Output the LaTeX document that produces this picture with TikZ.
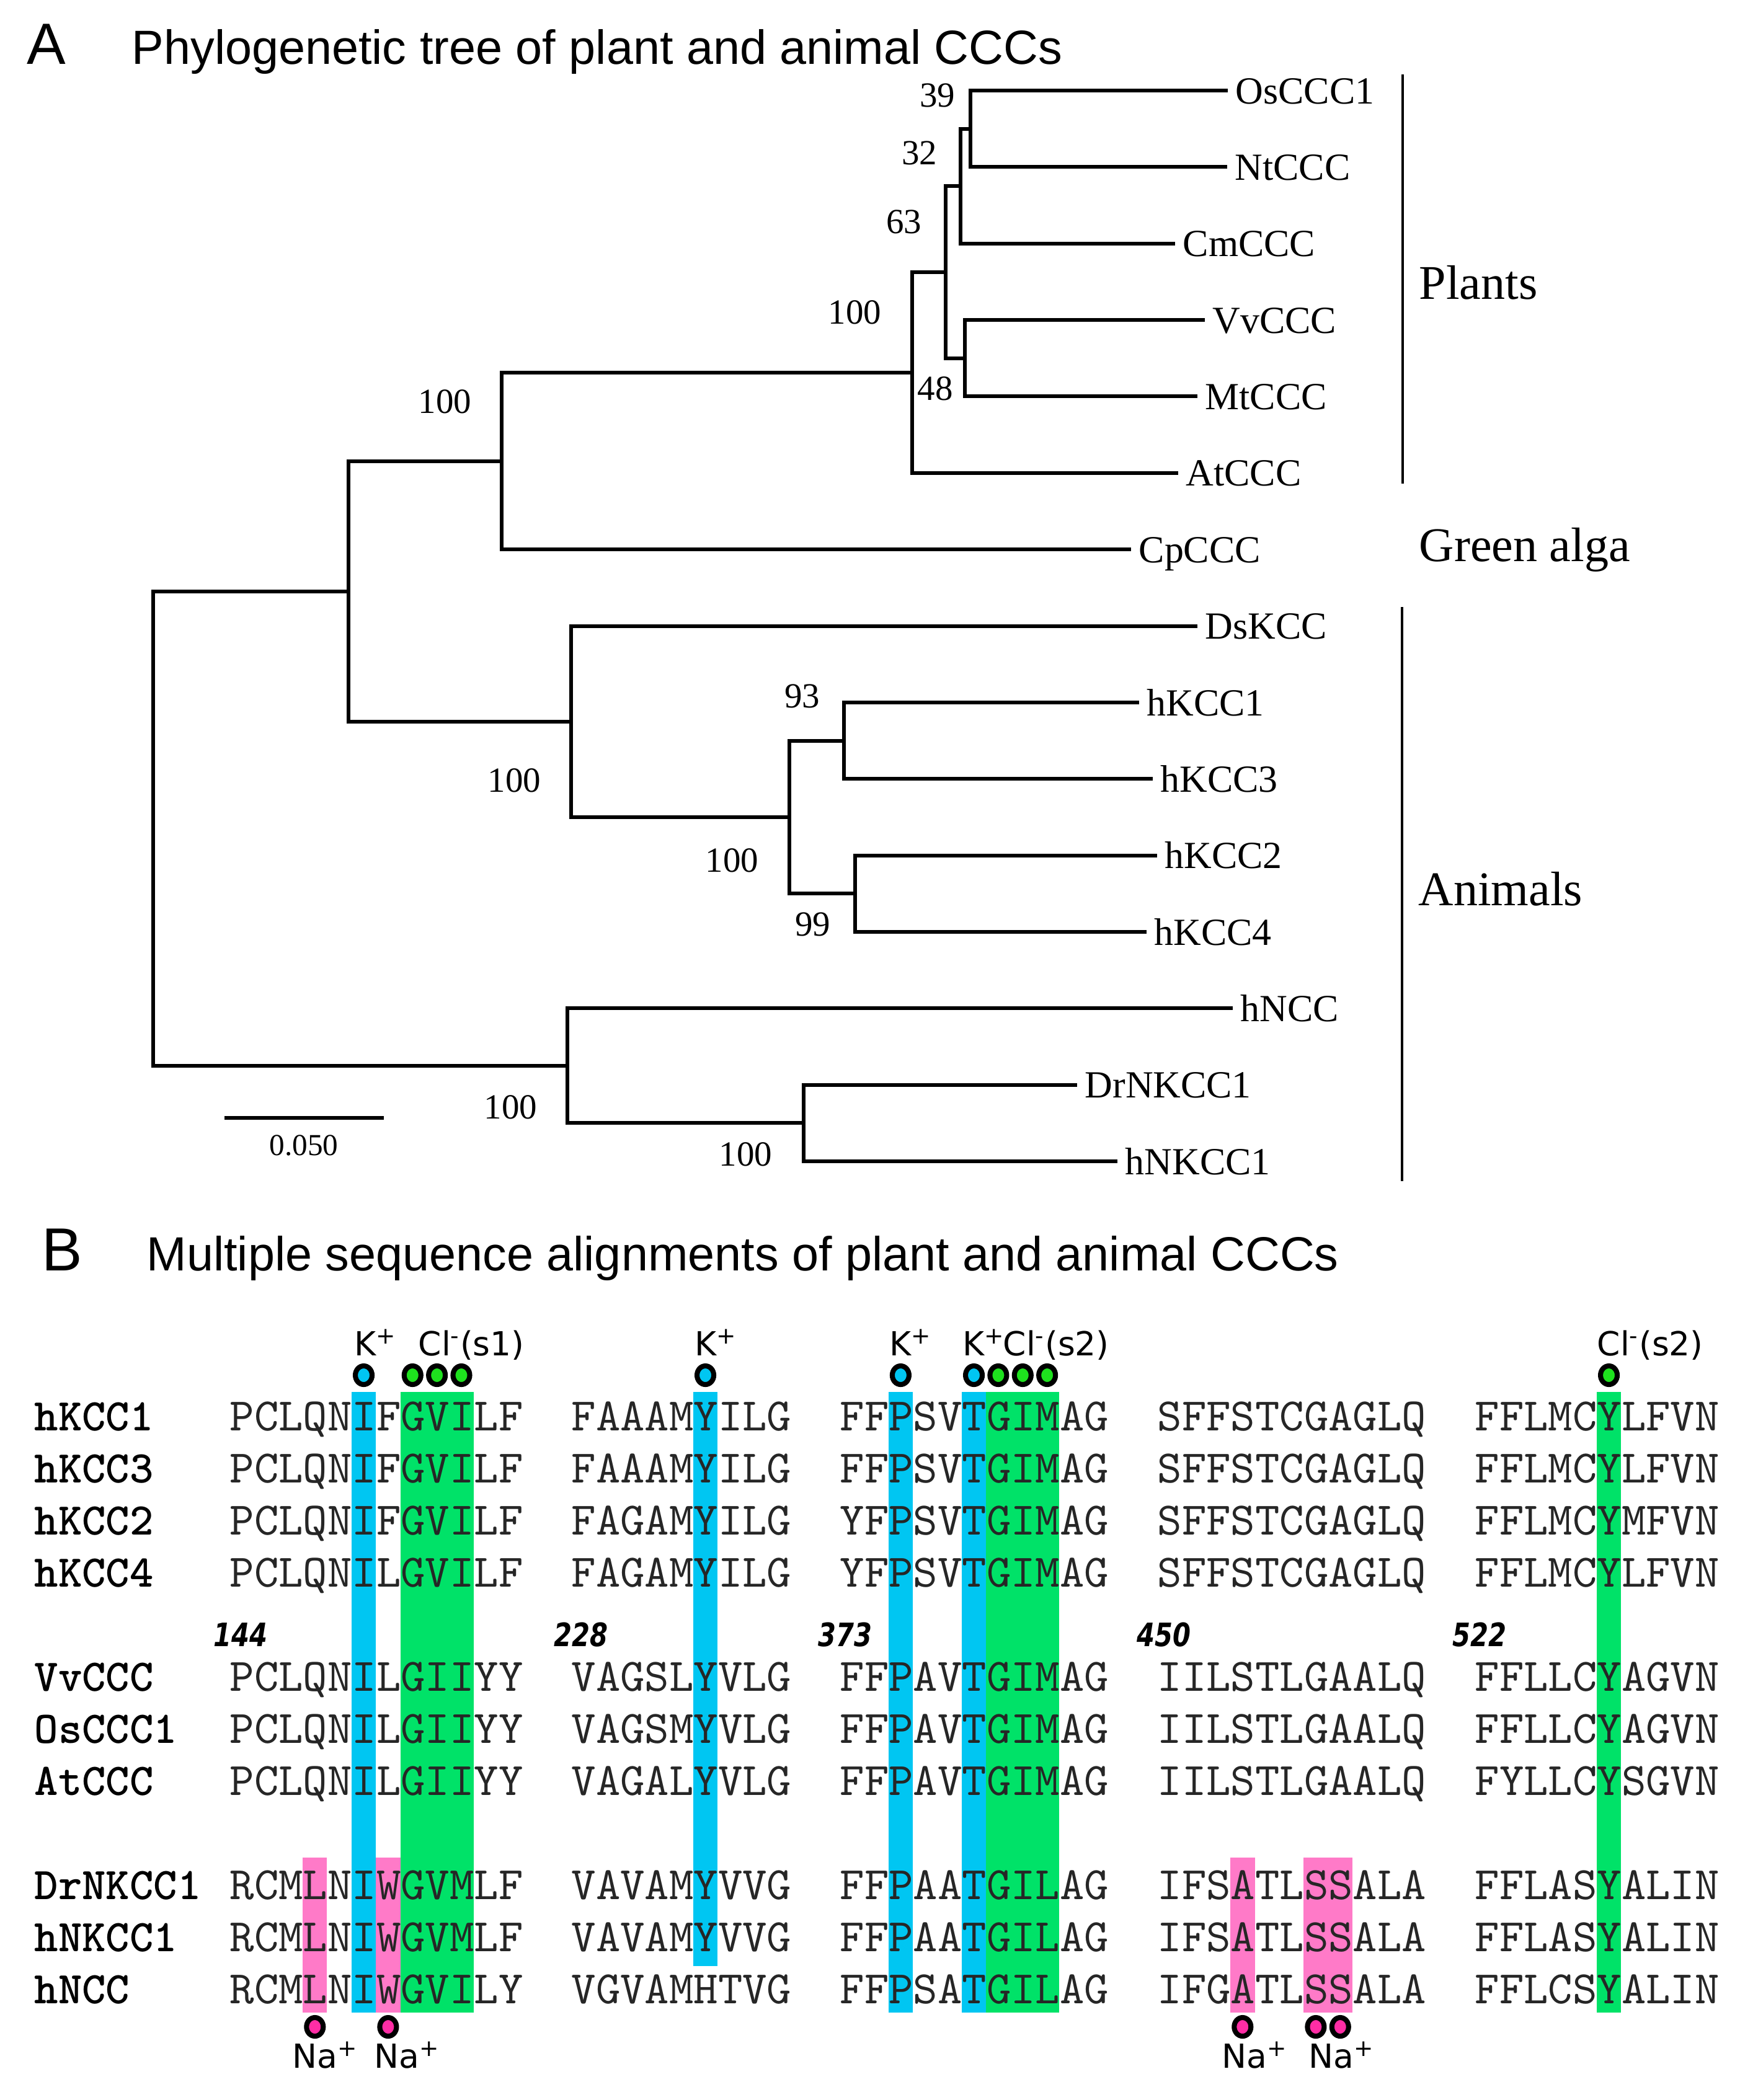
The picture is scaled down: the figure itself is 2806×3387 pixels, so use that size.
\documentclass[tikz,border=0pt]{standalone}
\usepackage{fontspec}
\usetikzlibrary{shapes.geometric}
\newfontfamily\arialf{Liberation Sans}
\newfontfamily\timesf{Liberation Serif}
\newfontfamily\ionf{DejaVu Sans}
\newfontfamily\numf[FakeStretch=0.8]{DejaVu Sans}
\newfontface\monor{lmmono10-regular.otf}
\newfontface\monob{lmmonolt10-bold.otf}
\newcommand\myfs[1]{\fontsize{#1pt}{#1pt}\selectfont}
\definecolor{kcyan}{RGB}{0,198,242}
\definecolor{kgreen}{RGB}{0,226,104}
\definecolor{kgreendot}{RGB}{30,225,30}
\definecolor{kpink}{RGB}{255,122,200}
\definecolor{kpinkdot}{RGB}{255,45,165}
\tikzset{
  treeline/.style={line width=1.7pt},
  grpbar/.style={line width=1.4pt},
  tip/.style={anchor=west, inner xsep=0.12cm, inner ysep=0pt, text height=12pt, text depth=0pt, font={\timesf\myfs{17.6}}},
  boot/.style={anchor=base east, inner sep=0pt, font={\timesf\myfs{16.2}}},
  grp/.style={anchor=base west, inner sep=0pt, font={\timesf\myfs{22.2}}},
  paneltag/.style={anchor=base west, inner sep=0pt},
  ptitle/.style={anchor=base west, inner sep=0pt, font={\arialf\myfs{22}}},
  seq/.style={anchor=base west, inner sep=0pt, text=black!85, font={\monor\myfs{21.34}}},
  sname/.style={anchor=base west, inner sep=0pt, font={\monob\myfs{20.8}}},
  posnum/.style={anchor=base west, inner sep=0pt, font={\numf\bfseries\itshape\myfs{14.8}}},
  ion/.style={anchor=base west, inner sep=0pt, font={\ionf\myfs{15.2}}},
  iondot/.style={ellipse, draw=black, line width=2.3pt, minimum width=0.27cm, minimum height=0.30cm, inner sep=0pt},
  cdot/.style={iondot, fill=kcyan},
  gdot/.style={iondot, fill=kgreendot},
  pdot/.style={iondot, fill=kpinkdot},
}
\def\p{39.37}
\begin{document}
\begin{tikzpicture}[x=0.01cm,y=-0.01cm]
\useasboundingbox (0,0) rectangle (2806,3387);
\fill[white] (0,0) rectangle (2806,3387);

% ---------- Panel A ----------
\node[paneltag, font={\arialf\myfs{26.7}}] (tagA) at (43,103) {A};
\node[ptitle] (titleA) at (212,103) {Phylogenetic tree of plant and animal CCCs};

% internal nodes
\coordinate (osnt)   at (1565,207.7);
\coordinate (n32)    at (1549,300.2);
\coordinate (vvmt)   at (1556,577.8);
\coordinate (n63)    at (1525,439);
\coordinate (plants) at (1471,600.9);
\coordinate (palga)  at (809,743.6);
\coordinate (k13)    at (1361,1194.6);
\coordinate (k24)    at (1379,1441.3);
\coordinate (hk)     at (1273,1318);
\coordinate (anim)   at (921,1163.8);
\coordinate (n562)   at (562,953.7);
\coordinate (nkcc)   at (1296,1811.4);
\coordinate (ncc)    at (915,1718.8);
\coordinate (root)   at (247,1336.3);

% tips
\node[tip] (Os)  at (1980,146)    {OsCCC1};
\node[tip] (Nt)  at (1979,269.4)  {NtCCC};
\node[tip] (Cm)  at (1895,392.7)  {CmCCC};
\node[tip] (Vv)  at (1943,516.1)  {VvCCC};
\node[tip] (Mt)  at (1931,639.4)  {MtCCC};
\node[tip] (At)  at (1900,762.8)  {AtCCC};
\node[tip] (Cp)  at (1824,886.2)  {CpCCC};
\node[tip] (Ds)  at (1931,1009.5) {DsKCC};
\node[tip] (K1)  at (1837,1132.9) {hKCC1};
\node[tip] (K3)  at (1859,1256.2) {hKCC3};
\node[tip] (K2)  at (1866,1379.6) {hKCC2};
\node[tip] (K4)  at (1849,1503)   {hKCC4};
\node[tip] (NCC) at (1988,1626.3) {hNCC};
\node[tip] (Dr)  at (1737,1749.7) {DrNKCC1};
\node[tip] (hN)  at (1802,1873)   {hNKCC1};

% branches
\draw[treeline] (root) |- (n562);
\draw[treeline] (root) |- (ncc);
\draw[treeline] (n562) |- (palga);
\draw[treeline] (n562) |- (anim);
\draw[treeline] (palga) |- (plants);
\draw[treeline] (palga) |- (Cp);
\draw[treeline] (plants) |- (n63);
\draw[treeline] (plants) |- (At);
\draw[treeline] (n63) |- (n32);
\draw[treeline] (n63) |- (vvmt);
\draw[treeline] (n32) |- (osnt);
\draw[treeline] (n32) |- (Cm);
\draw[treeline] (osnt) |- (Os);
\draw[treeline] (osnt) |- (Nt);
\draw[treeline] (vvmt) |- (Vv);
\draw[treeline] (vvmt) |- (Mt);
\draw[treeline] (anim) |- (Ds);
\draw[treeline] (anim) |- (hk);
\draw[treeline] (hk) |- (k13);
\draw[treeline] (hk) |- (k24);
\draw[treeline] (k13) |- (K1);
\draw[treeline] (k13) |- (K3);
\draw[treeline] (k24) |- (K2);
\draw[treeline] (k24) |- (K4);
\draw[treeline] (ncc) |- (NCC);
\draw[treeline] (ncc) |- (nkcc);
\draw[treeline] (nkcc) |- (Dr);
\draw[treeline] (nkcc) |- (hN);

% bootstrap values
\node[boot] (b39)  at (1541,172)  {39};
\node[boot] (b32)  at (1512,265)  {32};
\node[boot] (b63)  at (1487,376)  {63};
\node[boot] (b100a) at (1422,522) {100};
\node[boot, anchor=base west] (b48) at (1479,645) {48};
\node[boot] (b100b) at (761,666)  {100};
\node[boot] (b100c) at (873,1277) {100};
\node[boot] (b93)  at (1323,1141) {93};
\node[boot] (b100d) at (1224,1406) {100};
\node[boot] (b99)  at (1340,1509) {99};
\node[boot] (b100e) at (867,1804) {100};
\node[boot] (b100f) at (1246,1880) {100};

% scale bar
\coordinate (sb1) at (362,1803);
\coordinate (sb2) at (619,1803);
\draw[treeline] (sb1) -- (sb2);
\node[anchor=base, inner sep=0pt, font={\timesf\myfs{14}}] (sbl) at (490,1863) {0.050};

% group bars and labels
\coordinate (pb1) at (2262,120);
\coordinate (pb2) at (2262,780);
\draw[grpbar] (pb1) -- (pb2);
\coordinate (ab1) at (2261,979);
\coordinate (ab2) at (2261,1905);
\draw[grpbar] (ab1) -- (ab2);
\node[grp] (gPlants) at (2288,482) {Plants};
\node[grp] (gAlga) at (2288,905) {Green alga};
\node[grp] (gAnimals) at (2287,1460) {Animals};

% ---------- Panel B ----------
\node[paneltag, font={\arialf\myfs{27.9}}] (tagB) at (67,2049) {B};
\node[ptitle] (titleB) at (236,2049) {Multiple sequence alignments of plant and animal CCCs};

% highlight columns
\fill[kcyan]  ({370+5*\p},2245) rectangle ({370+6*\p},3246);
\fill[kgreen] ({370+7*\p},2245) rectangle ({370+10*\p},3246);
\fill[kpink]  ({370+3*\p},2996) rectangle ({370+4*\p},3246);
\fill[kpink]  ({370+6*\p},2996) rectangle ({370+7*\p},3246);
\fill[kcyan]  ({921+5*\p},2245) rectangle ({921+6*\p},3171);
\fill[kcyan]  ({1354+2*\p},2245) rectangle ({1354+3*\p},3246);
\fill[kcyan]  ({1354+5*\p},2245) rectangle ({1354+6*\p},3246);
\fill[kgreen] ({1354+6*\p},2245) rectangle ({1354+9*\p},3246);
\fill[kpink]  ({1866+3*\p},2996) rectangle ({1866+4*\p},3246);
\fill[kpink]  ({1866+6*\p},2996) rectangle ({1866+8*\p},3246);
\fill[kgreen] ({2378+5*\p},2245) rectangle ({2378+6*\p},3246);

% sequences
\foreach \nm/\yb/\sa/\sb/\sc/\sd/\se [count=\r] in {
  hKCC1/2307/PCLQNIFGVILF/FAAAMYILG/FFPSVTGIMAG/SFFSTCGAGLQ/FFLMCYLFVN,
  hKCC3/2391/PCLQNIFGVILF/FAAAMYILG/FFPSVTGIMAG/SFFSTCGAGLQ/FFLMCYLFVN,
  hKCC2/2475/PCLQNIFGVILF/FAGAMYILG/YFPSVTGIMAG/SFFSTCGAGLQ/FFLMCYMFVN,
  hKCC4/2559/PCLQNILGVILF/FAGAMYILG/YFPSVTGIMAG/SFFSTCGAGLQ/FFLMCYLFVN,
  VvCCC/2727/PCLQNILGIIYY/VAGSLYVLG/FFPAVTGIMAG/IILSTLGAALQ/FFLLCYAGVN,
  OsCCC1/2811/PCLQNILGIIYY/VAGSMYVLG/FFPAVTGIMAG/IILSTLGAALQ/FFLLCYAGVN,
  AtCCC/2895/PCLQNILGIIYY/VAGALYVLG/FFPAVTGIMAG/IILSTLGAALQ/FYLLCYSGVN,
  DrNKCC1/3063/RCMLNIWGVMLF/VAVAMYVVG/FFPAATGILAG/IFSATLSSALA/FFLASYALIN,
  hNKCC1/3147/RCMLNIWGVMLF/VAVAMYVVG/FFPAATGILAG/IFSATLSSALA/FFLASYALIN,
  hNCC/3231/RCMLNIWGVILY/VGVAMHTVG/FFPSATGILAG/IFGATLSSALA/FFLCSYALIN}{
  \node[sname] (nm\r) at (55,\yb) {\nm};
  \node[seq] (s\r a) at (370,\yb) {\sa};
  \node[seq] (s\r b) at (921,\yb) {\sb};
  \node[seq] (s\r c) at (1354,\yb) {\sc};
  \node[seq] (s\r d) at (1866,\yb) {\sd};
  \node[seq] (s\r e) at (2378,\yb) {\se};
}

% residue numbers
\node[posnum] (p144) at (344,2655) {144};
\node[posnum] (p228) at (893,2655) {228};
\node[posnum] (p373) at (1319,2655) {373};
\node[posnum] (p450) at (1833,2655) {450};
\node[posnum] (p522) at (2342,2655) {522};

% ion labels (top)
\node[ion] (lk1) at (571,2186) {K\textsuperscript{+}};
\node[ion] (lc1) at (674,2186) {Cl\textsuperscript{-}(s1)};
\node[ion] (lk2) at (1120,2186) {K\textsuperscript{+}};
\node[ion] (lk3) at (1434,2186) {K\textsuperscript{+}};
\node[ion] (lk4) at (1552,2186) {K\textsuperscript{+}};
\node[ion] (lc2) at (1617,2186) {Cl\textsuperscript{-}(s2)};
\node[ion] (lc3) at (2575,2186) {Cl\textsuperscript{-}(s2)};

% dots (top)
\node[cdot] (dk1) at ({370+5.5*\p},2218) {};
\node[gdot] (dg1) at ({370+7.5*\p},2218) {};
\node[gdot] (dg2) at ({370+8.5*\p},2218) {};
\node[gdot] (dg3) at ({370+9.5*\p},2218) {};
\node[cdot] (dk2) at ({921+5.5*\p},2218) {};
\node[cdot] (dk3) at ({1354+2.5*\p},2218) {};
\node[cdot] (dk4) at ({1354+5.5*\p},2218) {};
\node[gdot] (dg4) at ({1354+6.5*\p},2218) {};
\node[gdot] (dg5) at ({1354+7.5*\p},2218) {};
\node[gdot] (dg6) at ({1354+8.5*\p},2218) {};
\node[gdot] (dg7) at ({2378+5.5*\p},2218) {};

% Na dots and labels (bottom)
\node[pdot] (dn1) at ({370+3.5*\p},3269) {};
\node[pdot] (dn2) at ({370+6.5*\p},3269) {};
\node[pdot] (dn3) at ({1866+3.5*\p},3269) {};
\node[pdot] (dn4) at ({1866+6.5*\p},3269) {};
\node[pdot] (dn5) at ({1866+7.5*\p},3269) {};
\node[ion] (ln1) at (471,3335) {Na\textsuperscript{+}};
\node[ion] (ln2) at (603,3335) {Na\textsuperscript{+}};
\node[ion] (ln3) at (1970,3335) {Na\textsuperscript{+}};
\node[ion] (ln4) at (2110,3335) {Na\textsuperscript{+}};
\end{tikzpicture}
\end{document}
